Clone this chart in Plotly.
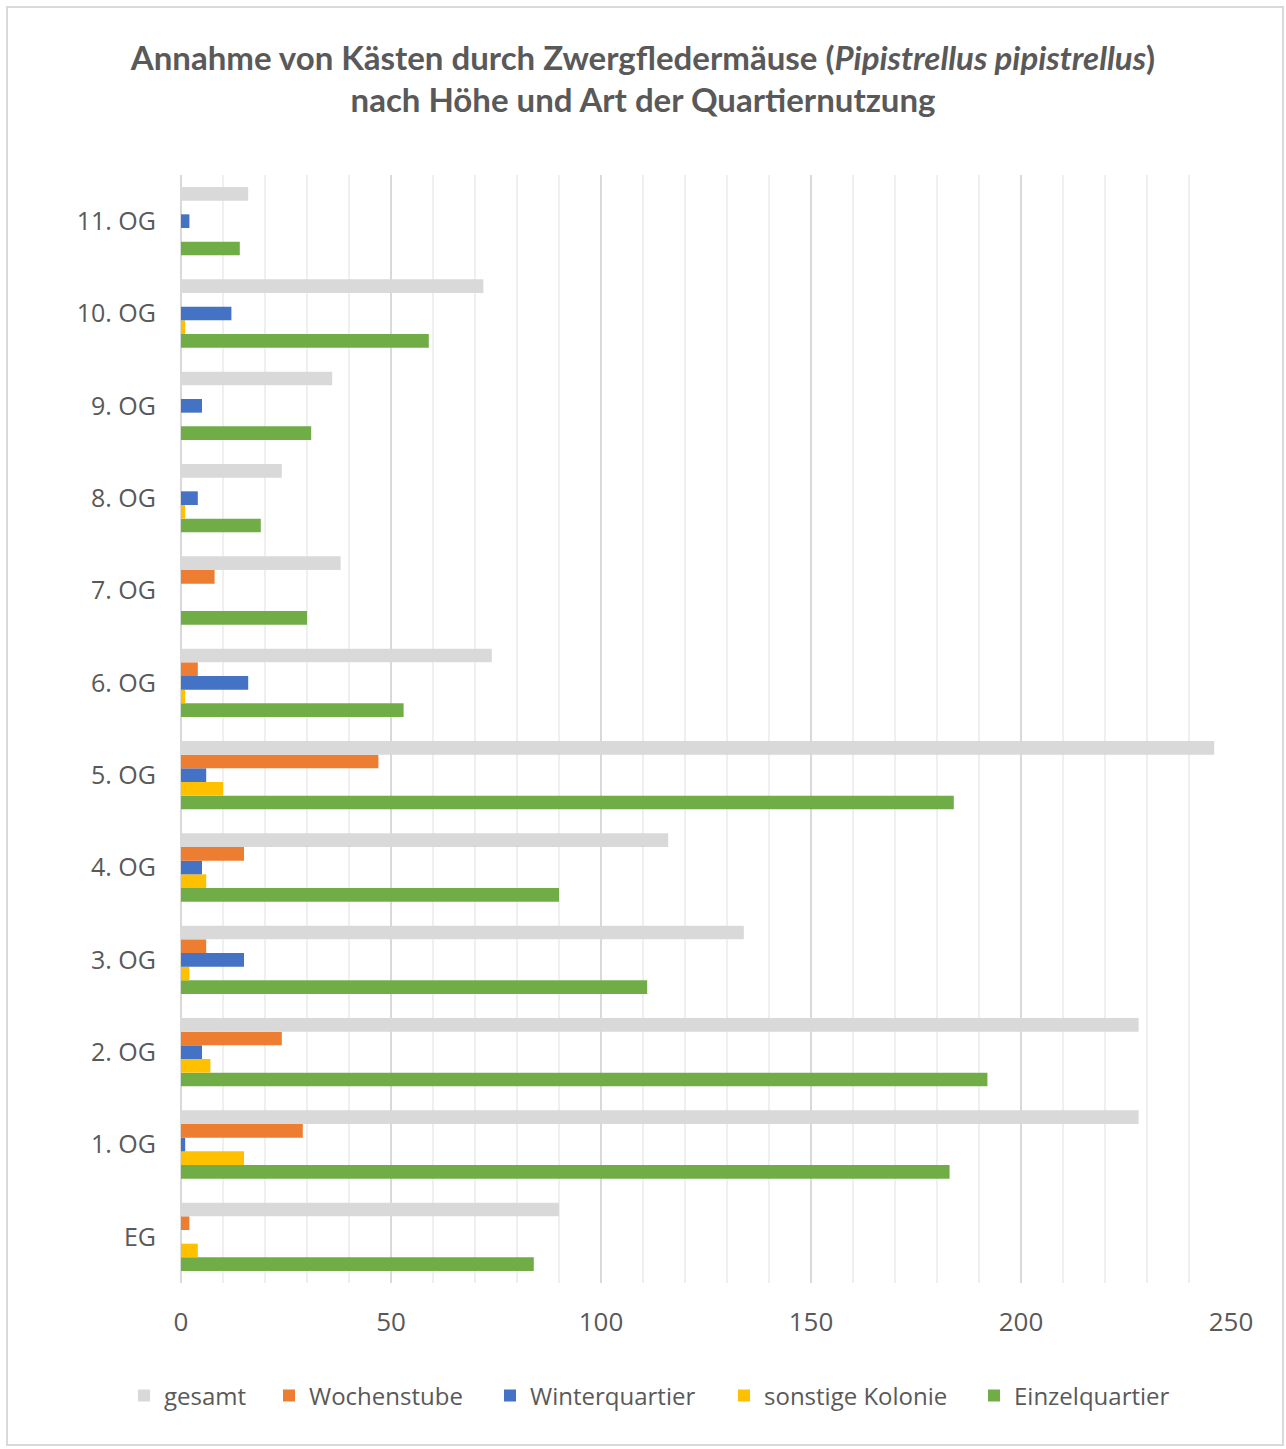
import plotly.graph_objects as go

# Floors of the building, bottom to top
floors = ["EG", "1. OG", "2. OG", "3. OG", "4. OG", "5. OG",
          "6. OG", "7. OG", "8. OG", "9. OG", "10. OG", "11. OG"]

# Number of boxes used per floor and type of roost use
gesamt = [90, 228, 228, 134, 116, 246, 74, 38, 24, 36, 72, 16]
wochenstube = [2, 29, 24, 6, 15, 47, 4, 8, 0, 0, 0, 0]
winterquartier = [0, 1, 5, 15, 5, 6, 16, 0, 4, 5, 12, 2]
sonstige_kolonie = [4, 15, 7, 2, 6, 10, 1, 0, 1, 0, 1, 0]
einzelquartier = [84, 183, 192, 111, 90, 184, 53, 30, 19, 31, 59, 14]

x_ticks = [0, 50, 100, 150, 200, 250]

# plot area in pixels (left, right, top, bottom)
PL, PR, PT, PB = 181, 1231, 175, 1283
PW, PH = PR - PL, PB - PT

# horizontal grouped bars fill each group bottom-up, so add the series
# from the lowest bar in a group to the highest one; every series gets its
# own one-entry legend so the row of keys can be spaced freely
series = [
    ("Einzelquartier", einzelquartier, "#70AD47", "legend5", 974),
    ("sonstige Kolonie", sonstige_kolonie, "#FFC000", "legend4", 724),
    ("Winterquartier", winterquartier, "#4472C4", "legend3", 490),
    ("Wochenstube", wochenstube, "#ED7D31", "legend2", 269),
    ("gesamt", gesamt, "#D9D9D9", "legend", 124),
]

text_grey = "#595959"
font_main = "Open Sans"
legend_y = (PB - 1396) / PH

fig = go.Figure()
legends = {}
for name, values, color, legend_id, legend_px in series:
    fig.add_trace(go.Bar(
        y=floors, x=values, name=name, orientation="h",
        marker=dict(color=color, line=dict(width=0)),
        legend=legend_id,
    ))
    legends[legend_id] = dict(
        orientation="h",
        x=(legend_px - PL) / PW, xanchor="left",
        y=legend_y, yanchor="middle",
        font=dict(family=font_main, size=24, color=text_grey),
        bgcolor="rgba(0,0,0,0)",
        itemclick=False, itemdoubleclick=False,
    )

fig.update_layout(
    width=1286, height=1449,
    margin=dict(l=PL, r=1286 - PR, t=PT, b=1449 - PB),
    paper_bgcolor="white", plot_bgcolor="white",
    barmode="group", bargap=0.26, bargroupgap=0,
    title=dict(
        text="Annahme von Kästen durch Zwergfledermäuse (<i>Pipistrellus pipistrellus</i>)"
             "<br>nach Höhe und Art der Quartiernutzung",
        x=0.5, xref="container", xanchor="center",
        y=1 - 69.5 / 1449, yref="container", yanchor="middle",
        font=dict(family="Lato", size=33, color=text_grey, weight="bold"),
    ),
    xaxis=dict(
        range=[0, 250], tickvals=x_ticks, ticktext=[str(v) for v in x_ticks],
        showgrid=True, gridcolor="#D9D9D9", gridwidth=2,
        zeroline=True, zerolinecolor="#D9D9D9", zerolinewidth=2,
        showline=False, ticks="",
        minor=dict(dtick=10, showgrid=True, gridcolor="#EFEFEF", gridwidth=2),
        tickfont=dict(family=font_main, size=26, color=text_grey),
        ticklabelstandoff=21,
        fixedrange=True,
    ),
    yaxis=dict(
        type="category", categoryorder="array", categoryarray=floors,
        range=[-0.5, len(floors) - 0.5],
        showgrid=False, showline=False, ticks="",
        tickfont=dict(family=font_main, size=25, color=text_grey),
        ticklabelstandoff=24,
        fixedrange=True,
    ),
    showlegend=True,
    **legends,
)

# light frame around the whole chart
fig.add_shape(
    type="rect", xref="paper", yref="paper", layer="below",
    x0=(7 - PL) / PW, x1=(1283 - PL) / PW,
    y0=(PB - 1445) / PH, y1=(PB - 7) / PH,
    line=dict(color="#D9D9D9", width=2), fillcolor="rgba(0,0,0,0)",
)

fig.write_html("out.html")
